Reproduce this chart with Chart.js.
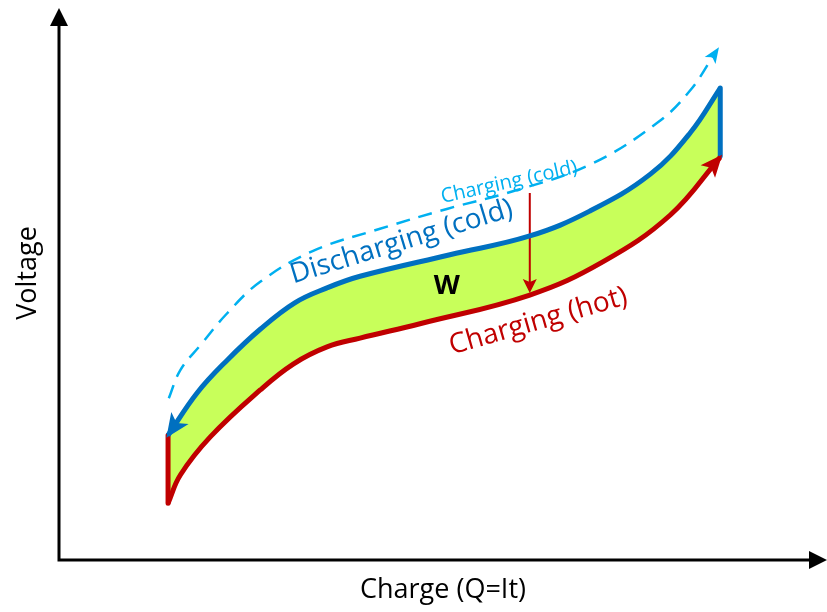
<!DOCTYPE html>
<html>
<head>
<meta charset="utf-8">
<script src="https://cdn.jsdelivr.net/npm/chart.js@4.4.1/dist/chart.umd.min.js"></script>
<style>
  html, body { margin: 0; padding: 0; background: #fff; }
</style>
</head>
<body>
<canvas id="myChart" width="827" height="612"></canvas>
<script>
// Charge (x) and voltage (y), both in arbitrary 0-100 units
const dischargeCold = [
    [14.2, 22.6], [18.0, 30.3], [21.9, 36.2], [26.2, 41.8], [30.7, 46.6], [34.9, 49.3],
    [39.2, 51.4], [50.9, 55.3], [61.3, 58.7], [69.1, 63.2], [77.0, 69.9], [82.2, 77.4],
    [86.1, 85.5]
];
const chargeHot = [
    [14.2, 10.3], [15.8, 15.4], [19.7, 22.3], [26.2, 30.8], [30.5, 35.5], [34.9, 38.6],
    [39.2, 40.2], [47.0, 42.8], [61.3, 48.0], [70.8, 54.0], [79.6, 62.5], [86.1, 73.0]
];
const chargeCold = [
    [14.3, 29.3], [15.8, 34.4], [18.4, 38.9], [21.9, 44.7], [26.2, 50.4], [33.1, 56.0],
    [41.8, 60.0], [50.5, 63.6], [59.1, 66.8], [69.1, 71.6], [77.9, 79.2], [82.2, 85.1],
    [85.5, 92.0]
];
const leftEdge = [[14.2, 22.6], [14.2, 10.3]];   // hot charge starts at the bottom
const rightEdge = [[86.1, 85.5], [86.1, 73.2]];  // discharge starts at the top
const workArrow = [[61.3, 66.5], [61.3, 48.9]];  // drop from cold charge to hot charge

const xLabel = 'Charge (Q=It)';
const yLabel = 'Voltage';

const BLUE = '#0070C0';
const RED = '#C00000';
const LIGHT_BLUE = '#00B0F0';
const GREEN = '#C8FF5A';
const FONT = '"Open Sans"';

// text written along the curves (position in data units, angle in degrees)
const curveLabels = [
    { text: 'Discharging (cold)', at: [44.6, 57.6], angle: -17, color: BLUE, font: '28px ' + FONT },
    { text: 'Charging (cold)', at: [58.6, 68.4], angle: -12.5, color: LIGHT_BLUE, font: '20px ' + FONT },
    { text: 'Charging (hot)', at: [62.4, 43.2], angle: -16, color: RED, font: '28px ' + FONT },
    { text: 'W', at: [50.5, 49.5], angle: 0, color: '#000', font: 'bold 27px ' + FONT }
];

const toPoints = arr => arr.map(p => ({ x: p[0], y: p[1] }));

function drawHead(ctx, tipX, tipY, dx, dy, len, width, color, notch) {
    const d = Math.hypot(dx, dy) || 1;
    const ux = dx / d, uy = dy / d;
    const nx = -uy, ny = ux;
    const bx = tipX - ux * len, by = tipY - uy * len;
    ctx.save();
    ctx.fillStyle = color;
    ctx.beginPath();
    ctx.moveTo(tipX, tipY);
    ctx.lineTo(bx + nx * width / 2, by + ny * width / 2);
    ctx.lineTo(tipX - ux * (len - notch), tipY - uy * (len - notch));
    ctx.lineTo(bx - nx * width / 2, by - ny * width / 2);
    ctx.closePath();
    ctx.fill();
    ctx.restore();
}

// arrow at the first or last point, pointing the way the curve runs there
function endArrow(chart, index, atStart, len, width, notch, ext) {
    const pts = chart.getDatasetMeta(index).data;
    const color = chart.data.datasets[index].borderColor;
    const p = atStart ? pts[0] : pts[pts.length - 1];
    const q = atStart ? pts[1] : pts[pts.length - 2];
    let cx = atStart ? p.cp2x : p.cp1x;
    let cy = atStart ? p.cp2y : p.cp1y;
    if (!isFinite(cx) || !isFinite(cy) || (Math.abs(cx - p.x) < 0.5 && Math.abs(cy - p.y) < 0.5)) {
        cx = q.x; cy = q.y;
    }
    const dx = p.x - cx, dy = p.y - cy;
    const d = Math.hypot(dx, dy) || 1;
    drawHead(chart.ctx, p.x + dx / d * ext, p.y + dy / d * ext, dx, dy, len, width, color, notch);
}

const sketchPlugin = {
    id: 'sketch',
    beforeDatasetsDraw(chart) {
        const { ctx, chartArea: a } = chart;
        ctx.save();
        ctx.strokeStyle = '#000';
        ctx.lineWidth = 3;
        ctx.beginPath();
        ctx.moveTo(a.left, a.bottom);
        ctx.lineTo(a.left, a.top + 12);
        ctx.moveTo(a.left - 1.5, a.bottom);
        ctx.lineTo(a.right - 12, a.bottom);
        ctx.stroke();

        // y title sits a little above the middle of the axis in the sketch
        ctx.translate(a.left - 31, (a.top + a.bottom) / 2 - 11);
        ctx.rotate(-Math.PI / 2);
        ctx.font = '27px ' + FONT;
        ctx.fillStyle = '#000';
        ctx.textAlign = 'center';
        ctx.textBaseline = 'middle';
        ctx.fillText(yLabel, 0, 0);
        ctx.restore();

        drawHead(ctx, a.left, a.top, 0, -1, 18, 18, '#000', 0);
        drawHead(ctx, a.right, a.bottom, 1, 0, 18, 18, '#000', 0);
    },
    afterDatasetsDraw(chart) {
        const { ctx, scales: { x, y } } = chart;
        endArrow(chart, 0, true, 24, 21, 6, 3);   // discharge heads down to the left
        endArrow(chart, 1, false, 22, 19, 5, 3);  // hot charge heads up to the right
        endArrow(chart, 2, false, 16, 13, 4, 6);  // cold charge (dashed)
        endArrow(chart, 5, false, 14, 14, 3, 3);  // W drop

        curveLabels.forEach(l => {
            ctx.save();
            ctx.translate(x.getPixelForValue(l.at[0]), y.getPixelForValue(l.at[1]));
            ctx.rotate(l.angle * Math.PI / 180);
            ctx.font = l.font;
            ctx.fillStyle = l.color;
            ctx.textAlign = 'center';
            ctx.textBaseline = 'middle';
            ctx.fillText(l.text, 0, 0);
            ctx.restore();
        });
    }
};

const curve = {
    pointRadius: 0,
    pointHoverRadius: 0,
    tension: 0.4,
    borderCapStyle: 'butt'
};

const ctx = document.getElementById('myChart').getContext('2d');
new Chart(ctx, {
    type: 'line',
    data: {
        datasets: [
            Object.assign({}, curve, {
                label: 'Discharging (cold)',
                data: toPoints(dischargeCold),
                borderColor: BLUE,
                borderWidth: 5,
                fill: { target: 1, above: GREEN, below: GREEN }
            }),
            Object.assign({}, curve, {
                label: 'Charging (hot)',
                data: toPoints(chargeHot),
                borderColor: RED,
                borderWidth: 5,
                fill: false
            }),
            Object.assign({}, curve, {
                label: 'Charging (cold)',
                data: toPoints(chargeCold),
                borderColor: LIGHT_BLUE,
                borderWidth: 2.5,
                borderDash: [14, 9],
                fill: false
            }),
            {
                label: 'left edge',
                data: toPoints(leftEdge),
                borderColor: RED,
                borderWidth: 5,
                borderCapStyle: 'round',
                pointRadius: 0,
                tension: 0,
                fill: false
            },
            {
                label: 'right edge',
                data: toPoints(rightEdge),
                borderColor: BLUE,
                borderWidth: 5,
                borderCapStyle: 'round',
                pointRadius: 0,
                tension: 0,
                fill: false
            },
            {
                label: 'W',
                data: toPoints(workArrow),
                borderColor: RED,
                borderWidth: 2,
                borderCapStyle: 'butt',
                pointRadius: 0,
                tension: 0,
                fill: false
            }
        ]
    },
    options: {
        responsive: false,
        animation: false,
        events: [],
        layout: { padding: { top: 8, right: 0, bottom: 0, left: 0 } },
        plugins: {
            legend: { display: false },
            tooltip: { enabled: false },
            filler: { drawTime: 'beforeDatasetsDraw' }
        },
        scales: {
            x: {
                type: 'linear',
                min: 0,
                max: 100,
                grid: { display: false, drawTicks: false },
                border: { display: false },
                ticks: { display: false },
                title: {
                    display: true,
                    text: xLabel,
                    color: '#000',
                    font: { family: 'Open Sans', size: 27 },
                    padding: { top: 14.2, bottom: 5.4 }
                }
            },
            y: {
                type: 'linear',
                min: 0,
                max: 100,
                grid: { display: false, drawTicks: false },
                border: { display: false },
                ticks: { display: false },
                afterFit: function(scale) {
                    scale.width = 59;
                }
            }
        }
    },
    plugins: [sketchPlugin]
});
</script>
</body>
</html>
